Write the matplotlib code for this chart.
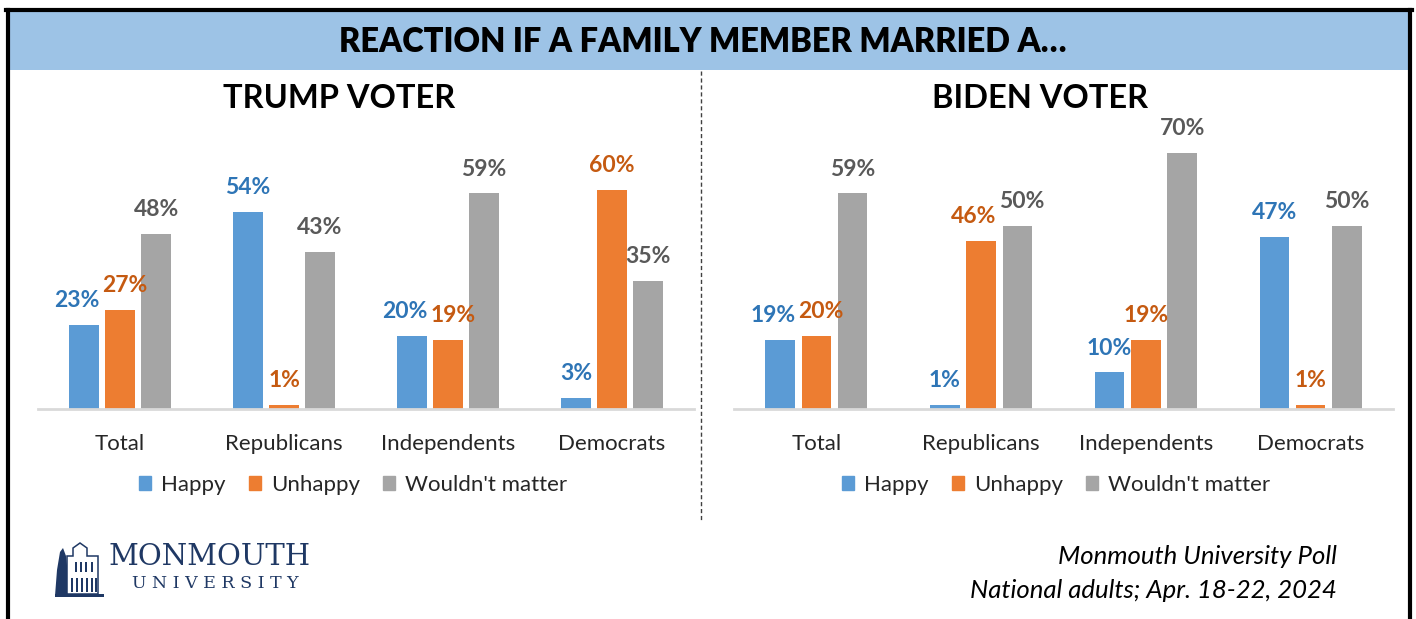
import matplotlib
matplotlib.use("Agg")
import matplotlib.pyplot as plt
import matplotlib.patches as mpatches
from matplotlib.lines import Line2D
from matplotlib.transforms import offset_copy
import numpy as np
from matplotlib import font_manager

categories = ["Total", "Republicans", "Independents", "Democrats"]
series_names = ["Happy", "Unhappy", "Wouldn't matter"]
trump_happy = [23, 54, 20, 3]
trump_unhappy = [27, 1, 19, 60]
trump_wouldnt = [48, 43, 59, 35]
biden_happy = [19, 1, 10, 47]
biden_unhappy = [20, 46, 19, 1]
biden_wouldnt = [59, 50, 70, 50]

bar_colors = ["#5B9BD5", "#ED7D31", "#A5A5A5"]
label_colors = ["#2E75B6", "#C55A11", "#595959"]

avail = {f.name for f in font_manager.fontManager.ttflist}
FONT = "Lato" if "Lato" in avail else "DejaVu Sans"
plt.rcParams["font.family"] = [FONT, "DejaVu Sans"]

W, H = 1416, 619
fig = plt.figure(figsize=(W / 100, H / 100), dpi=100)

def fx(px):
    return px / W

def fy(py):
    return 1 - py / H

# frame and header band
fig.patches.append(mpatches.Rectangle((fx(10), fy(70)), fx(1398), (70 - 12) / H,
                                      transform=fig.transFigure, facecolor="#9DC3E6",
                                      edgecolor="none", zorder=0))
fig.add_artist(Line2D([fx(8), fx(8)], [fy(10), 0], color="black", lw=3, transform=fig.transFigure))
fig.add_artist(Line2D([fx(1410), fx(1410)], [fy(10), 0], color="black", lw=3, transform=fig.transFigure))
fig.add_artist(Line2D([fx(6), fx(1412)], [fy(10), fy(10)], color="black", lw=3, transform=fig.transFigure))

fig.text(fx(703), fy(42), "REACTION IF A FAMILY MEMBER MARRIED A\u2026", ha="center", va="center",
         fontsize=23.5, fontweight="heavy", color="black")

# separator
fig.add_artist(Line2D([fx(701), fx(701)], [fy(71), fy(522)], color="#404040", lw=1,
                      linestyle=(0, (3, 2)), transform=fig.transFigure))

all_label_groups = []


def draw_panel(x0, x1, title, title_x, data, legend_x):
    ax = fig.add_axes([fx(x0), fy(409), fx(x1 - x0), 274 / H])
    x = np.arange(len(categories))
    width = 0.178
    step = 0.22
    groups = [[] for _ in categories]
    for i, vals in enumerate(data):
        pos = x + (i - 1) * step
        ax.bar(pos, vals, width=width, color=bar_colors[i], zorder=2)
        for j, (p, v) in enumerate(zip(pos, vals)):
            t = ax.text(p, v + 3.8, f"{v}%", ha="center", va="bottom", fontsize=16.5,
                        fontweight="bold", color=label_colors[i], clip_on=False)
            groups[j].append(t)
    all_label_groups.extend(groups)
    ax.set_xlim(-0.5, len(categories) - 0.5)
    ax.set_ylim(0, 75)
    for s in ["top", "right", "left"]:
        ax.spines[s].set_visible(False)
    ax.spines["bottom"].set_color("#D9D9D9")
    ax.spines["bottom"].set_linewidth(2)
    ax.set_yticks([])
    ax.set_xticks(x)
    ax.set_xticklabels(categories, fontsize=16, color="#262626")
    ax.tick_params(axis="x", length=0, pad=18)
    fig.text(fx(title_x), fy(99), title, ha="center", va="center", fontsize=23.5,
             fontweight="bold", color="black")
    handles = [mpatches.Patch(color=c, label=n) for c, n in zip(bar_colors, series_names)]
    fig.legend(handles=handles, loc="center", bbox_to_anchor=(fx(legend_x), fy(485)),
               ncol=3, frameon=False, fontsize=16, handlelength=0.55, handleheight=0.55,
               handletextpad=0.45, columnspacing=1.05, labelcolor="#262626")
    return ax

draw_panel(38, 694, "TRUMP VOTER", 339, [trump_happy, trump_unhappy, trump_wouldnt], 353)
draw_panel(734, 1393, "BIDEN VOTER", 1040, [biden_happy, biden_unhappy, biden_wouldnt], 1056)

# nudge overlapping neighbouring value labels apart (as the spreadsheet does)
fig.canvas.draw()
renderer = fig.canvas.get_renderer()
for grp in all_label_groups:
    for a, b in zip(grp[:-1], grp[1:]):
        ea = a.get_window_extent(renderer)
        eb = b.get_window_extent(renderer)
        vert = min(ea.y1, eb.y1) - max(ea.y0, eb.y0)
        over = ea.x1 - eb.x0 + 3
        if vert > 0 and over > 0:
            a.set_transform(offset_copy(a.get_transform(), fig=fig, x=-over * 0.6, units="dots"))
            b.set_transform(offset_copy(b.get_transform(), fig=fig, x=over * 0.4, units="dots"))

# logo
navy = "#1F3864"
fig.text(fx(108), fy(557), "MONMOUTH", ha="left", va="center", fontsize=21,
         family=["DejaVu Serif"], color=navy)
fig.text(fx(132), fy(584), "U N I V E R S I T Y", ha="left", va="center", fontsize=12.5,
         family=["DejaVu Serif"], color=navy)
# simple building icon
def P(pts, **kw):
    fig.patches.append(mpatches.Polygon([[fx(a), fy(b)] for a, b in pts], closed=True,
                                        transform=fig.transFigure, **kw))
P([(55, 596), (57, 570), (60, 552), (63, 548), (66, 556), (68, 575), (69, 596)],
  facecolor=navy, edgecolor="none")
P([(67, 594), (67, 556), (73, 556), (73, 548), (80, 543), (87, 548), (87, 556), (98, 556), (98, 594)],
  facecolor="white", edgecolor=navy, lw=1.1)
for xx in [71, 76, 81, 86, 91, 95]:
    P([(xx, 592), (xx, 578), (xx + 2, 578), (xx + 2, 592)], facecolor=navy, edgecolor="none")
for xx in [75, 80, 85, 91]:
    P([(xx, 572), (xx, 562), (xx + 2, 562), (xx + 2, 572)], facecolor=navy, edgecolor="none")
P([(55, 597), (104, 597), (104, 594), (55, 594)], facecolor=navy, edgecolor="none")

fig.text(fx(1337), fy(557), "Monmouth University Poll", ha="right", va="center", fontsize=18.5,
         style="italic", color="black")
fig.text(fx(1337), fy(590), "National adults; Apr. 18-22, 2024", ha="right", va="center",
         fontsize=18.5, style="italic", color="black")

fig.savefig("out.png", dpi=100)
